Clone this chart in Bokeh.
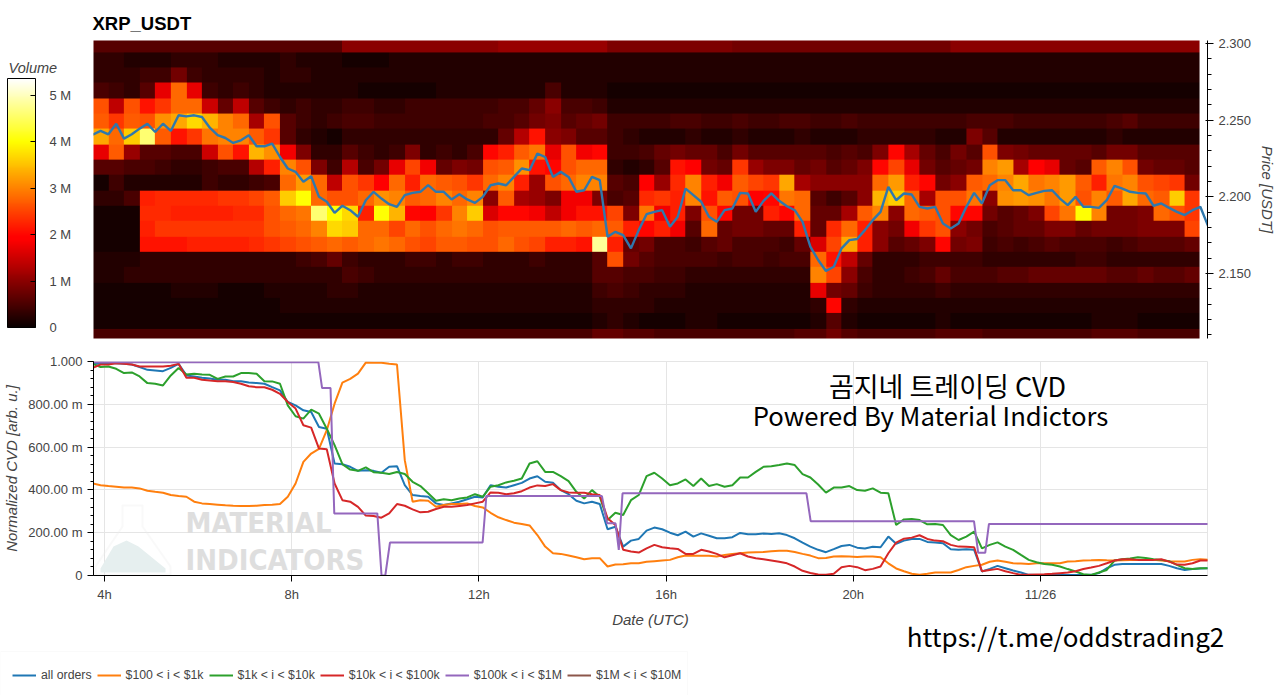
import numpy as np
from bokeh.embed import file_html
from bokeh.resources import INLINE
from bokeh.layouts import column
from bokeh.plotting import figure
from bokeh.models import (ColorBar, LinearColorMapper, FixedTicker, SingleIntervalTicker, Range1d,
                          CustomJSTickFormatter, Label, Legend, LegendItem,
                          BoxAnnotation, PolyAnnotation)

# ---------- data ----------
tick_hours = [4, 8, 12, 16, 20, 24]
tick_labels = ["4h", "8h", "12h", "16h", "20h", "11/26"]
volume_ticks = [0, 1e6, 2e6, 3e6, 4e6, 5e6]

# heatmap rows, top to bottom, volume in units of 0.1 M, one value per 20 min
row_2299 = [6]*16+[10]*10+[11]*7+[9]*8+[8]*10+[8]*4+[10]*16
row_2289 = [3,3,2,2,2,3,3,3,2,2,2,2,3,2,2,2,1,1,1,2,2,2,2,2,2,2]+[2]*25+[2]*20
row_2279 = [3,3,3,4,4,8,4,3,3,3,3,2,3,3,2,2,2,2,2,2,2,2,2,2,2,2]+[2]*25+[2]*20
row_2269 = [5,4,3,6,17,28,17,4,3,4,3,2,2,2,2,2,2,1,1,1,1,1,2,2,2,2]+[2,2,2,5,2,2,2]+[1]*18+[1]*20
row_2259 = [26,14,26,21,24,28,28,15,7,14,6,4,3,4,3,3,4,4,3,3,4,4,4,4,4,4]+[5,5,7,10,5,5,4]+[2]*18+[2]*20
row_2249 = [27,24,27,26,31,33,37,34,30,28,12,26,6,4,3,4,5,5,4,4,4,4,4,4,4,5]+[5,6,8,9,6,7,8,4,4,4,4,5,5,4,4,5,4,4,5,5,4,4,5,4,4]+[4,4,4,4,4,5,5,5,4,4,4,4,4,4,5,6,4,4,4,4]
row_2239 = [33,28,36,46,27,21,24,29,30,30,27,24,6,3,2,1,3,3,3,3,3,3,3,3,3,3]+[7,13,21,10,9,6,6,4,3,2,2,2,3,2,2,3,2,2,2,3,2,2,2,3,3]+[3,3,3,2,2,9,6,2,2,2,2,2,2,2,3,2,2,2,2,2]
row_2229 = [17,27,11,6,6,5,5,15,26,21,34,31,18,9,3,3,6,4,3,4,9,3,4,3,5,20]+[22,27,29,17,26,18,20,4,4,5,7,8,7,7,5,8,6,6,6,6,6,5,6,5,9]+[20,12,7,5,8,6,26,9,8,7,7,7,7,6,8,8,6,6,6,6]
row_2219 = [6,6,5,5,4,3,3,4,5,5,13,22,30,26,9,4,13,5,8,17,25,18,7,9,8,26]+[27,31,21,20,26,28,28,3,2,3,6,21,19,8,7,24,11,9,9,7,8,6,7,9,20]+[25,17,8,6,7,8,30,32,12,19,17,7,6,27,30,26,8,7,7,6]
row_2209 = [1,4,2,2,2,2,2,4,3,3,4,5,28,32,28,14,26,24,19,28,22,28,27,26,24,28]+[30,22,11,26,28,30,30,6,5,19,11,23,30,22,18,27,25,24,33,12,10,10,10,10,28]+[32,22,20,8,10,27,28,30,33,29,30,32,27,22,29,30,26,25,24,8]
row_2199 = [3,3,5,22,23,23,23,23,24,24,25,27,36,40,28,26,26,28,31,30,27,28,30,28,30,10]+[27,12,11,9,18,18,9,5,6,23,24,22,30,21,27,26,19,20,29,28,6,4,6,10,34]+[36,28,12,26,26,29,10,31,32,31,29,32,26,30,27,33,28,27,36,24]
row_2189 = [1,1,1,23,23,22,22,22,22,23,23,26,28,29,46,40,37,22,40,34,20,19,24,30,36,16]+[20,20,18,14,18,21,21,25,9,29,18,22,9,26,20,8,8,22,20,28,7,7,12,27,30]+[10,28,27,26,20,20,8,6,7,9,25,29,40,30,8,8,9,28,26,24]
row_2179 = [1,1,1,22,24,24,24,24,24,24,24,26,27,28,30,37,36,28,28,25,28,26,28,29,28,26]+[27,27,27,27,28,27,28,27,22,20,22,18,6,28,7,8,8,7,7,22,7,23,28,22,10]+[8,18,24,26,10,8,5,6,7,7,9,9,7,8,8,8,9,9,9,25]
row_2169 = [1,1,1,21,21,21,22,22,22,22,23,24,25,26,27,28,27,28,29,28,26,25,27,27,26,26]+[28,26,25,22,22,21,48,22,7,8,5,5,4,6,7,5,5,5,4,7,16,25,33,22,10]+[6,7,9,20,8,9,4,5,4,5,6,5,5,5,4,5,6,6,6,7]
row_2159 = [2,2,2,3,3,3,3,3,3,3,3,3,3,4,5,7,4,3,3,3,4,4,3,4,4,3]+[3,3,4,3,3,3,6,26,8,6,5,5,5,5,4,5,5,4,5,5,28,21,14,7,3]+[3,3,4,4,4,4,3,3,3,3,3,3,4,4,3,3,3,3,3,3]
row_2149 = [2,2,3,3,3,3,3,3,3,3,3,3,3,3,3,3,5,4,3,3,3,3,3,3,3,3]+[3,3,3,3,3,3,6,6,5,5,4,4,3,3,3,3,3,3,3,3,30,25,10,5,3]+[3,4,5,7,5,5,5,6,6,7,7,7,7,7,6,6,7,6,6,7]
row_2139 = [1,1,1,1,1,2,2,2,1,1,1,2,2,2,2,3,3,2,2,2,2,2,2,2,2,2]+[2,2,2,2,2,2,4,5,4,3,3,3,2,2,2,2,2,2,2,2,17,8,7,4,3]+[3,3,3,4]+[3]*16
row_2129 = [1]*12+[2]*14+[2,2,2,2,2,2,3,3,3,3,2,2,2,2,2,2,2,2,2,2,3,20,3,2,2]+[2]*20
row_2119 = [1]*26+[1,1,1,1,1,1,2,3,2,1,1,1,2,2,1,1,1,1,1,1,2,6,2,1,1]+[1,1,1,2,1,1,1,1,1,1,1,1,1,2,2,2,1,1,1,1]
row_2109 = [5]*26+[5,5,5,5,5,5,7,7,6,6,5,5,5,5,5,5,5,5,5,6,6,8,6,5,5]+[5,5,5,6,6,6,5,5,5,5,5,5,5,6,6,6,5,5,5,5]

# price and CVD, one value per 10 min starting at 03:45
price = [2.2406,2.2430,2.2408,2.2477,2.2380,2.2408,2.2445,2.2477,2.2423,2.2477,2.2430,2.2532,2.2525,2.2532,2.2521,2.2451,2.2402,2.2384,2.2352,2.2369,
         2.2402,2.2330,2.2330,2.2347,2.2260,2.2185,2.2163,2.2098,2.2135,2.2000,2.1968,2.1896,2.1942,2.1913,2.1870,2.1978,2.2033,2.1989,2.1952,2.1935,
         2.2011,2.2026,2.2033,2.2076,2.2033,2.2033,2.1983,2.2017,2.1983,2.1961,2.2000,
         2.2076,2.2087,2.2076,2.2130,2.2185,2.2174,2.2282,2.2260,2.2130,2.2163,2.2130,2.2033,2.2043,2.2130,2.2109,2.1740,2.1772,2.1751,2.1664,2.1783,
         2.1887,2.1902,2.1913,2.1805,2.1870,2.2054,2.2011,2.1968,2.1870,2.1837,2.1913,2.1924,2.2026,2.2022,2.1902,2.1974,2.2022,2.1974,2.1939,2.1913,
         2.1837,2.1675,2.1588,2.1516,2.1544,2.1664,2.1718,2.1725,2.1783,2.1848,2.1902,2.2065,
         2.1978,2.2022,2.2015,2.1935,2.1924,2.1935,2.1826,2.1794,2.1826,2.1935,2.2026,2.1957,2.2076,2.2109,2.2109,2.2043,2.2043,2.2011,2.2026,2.2039,
         2.2043,2.1989,2.1946,2.2000,2.1935,2.1935,2.1928,2.1978,2.2072,2.2054,2.2033,2.2026,2.2022,2.1942,2.1957,2.1928,2.1902,2.1881,2.1913,2.1935,2.1809]

cvd_all = [.989,.989,.992,.992,.989,.986,.974,.961,.958,.955,.970,.989,.935,.930,.924,.921,.915,.915,.908,.908,.902,.899,.896,.880,.865,.811,.795,.772,.764,.694,.686,.523,.520,.508,.489,.492,.489,.480,.508,.511,.422,.376,.371,.368,.337,.329,
           .337,.345,.356,.368,.365,.422,.415,.411,.422,.433,.453,.464,.438,.433,.399,.380,.349,.337,.345,.334,.216,.228,.135,.163,.171,.210,.224,.216,.200,.188,.205,.182,.197,.186,.174,.174,.179,.199,.193,.193,.196,.194,.197,.189,.174,.154,.135,.120,.109,.123,.138,.143,
           .130,.126,.134,.132,.182,.148,.163,.171,.171,.157,.154,.151,.123,.120,.123,.120,.019,.031,.045,.034,.023,.014,.003,.002,.002,.002,.002,.002,.002,.002,.003,.011,.034,.050,.054,.054,.054,.054,.054,.054,.045,.034,.026,.030,.033,.034]
cvd_100_1k = [.430,.422,.418,.415,.411,.411,.407,.396,.391,.387,.376,.371,.368,.345,.337,.334,.331,.328,.326,.325,.325,.326,.329,.331,.334,.368,.430,.531,.570,.592,.679,.803,.901,.919,.943,.995,.994,.994,.989,.986,.539,.345,.352,.349,.321,.329,
              .334,.334,.337,.325,.318,.293,.272,.259,.247,.241,.234,.189,.135,.104,.101,.093,.085,.076,.081,.081,.042,.051,.053,.057,.057,.064,.067,.070,.073,.085,.093,.092,.092,.092,.089,.096,.101,.104,.107,.109,.110,.113,.116,.116,.110,.101,.093,.081,.082,.089,.090,.089,
              .087,.089,.089,.085,.057,.033,.020,.008,.003,.008,.014,.014,.014,.026,.039,.045,.050,.064,.070,.064,.057,.056,.054,.057,.057,.057,.057,.065,.067,.070,.071,.073,.071,.070,.071,.073,.073,.073,.073,.070,.067,.065,.065,.073,.076,.073]
cvd_1k_10k = [.989,.974,.977,.966,.946,.949,.930,.899,.896,.888,.935,.970,.939,.943,.939,.938,.919,.930,.930,.946,.946,.943,.908,.907,.896,.795,.744,.733,.775,.756,.686,.609,.520,.495,.489,.505,.483,.480,.474,.484,.474,.438,.418,.384,.349,.356,
              .352,.360,.365,.380,.368,.415,.422,.435,.443,.453,.523,.534,.484,.484,.464,.441,.391,.360,.399,.368,.259,.293,.283,.352,.376,.464,.480,.453,.422,.430,.449,.418,.453,.418,.427,.415,.422,.458,.458,.484,.508,.511,.516,.523,.516,.474,.458,.425,.387,.411,.411,.418,
              .399,.396,.407,.387,.384,.236,.262,.264,.259,.239,.241,.236,.189,.166,.182,.205,.127,.143,.155,.135,.120,.096,.073,.062,.054,.050,.042,.030,.019,.006,.002,.014,.026,.070,.076,.079,.085,.082,.076,.073,.067,.050,.034,.030,.034,.034]
cvd_10k_100k = [.970,.986,.986,.992,.989,.986,.977,.977,.977,.977,.980,.989,.924,.924,.915,.911,.908,.908,.904,.896,.884,.880,.880,.868,.849,.811,.780,.702,.691,.593,.590,.430,.352,.345,.321,.280,.278,.270,.290,.334,.326,.309,.295,.298,.311,.321,
                .321,.325,.329,.337,.345,.388,.387,.380,.384,.394,.411,.421,.418,.427,.399,.388,.387,.387,.380,.376,.267,.236,.120,.112,.107,.127,.143,.132,.127,.124,.101,.101,.120,.112,.101,.085,.095,.104,.089,.081,.076,.070,.064,.057,.042,.022,.012,.005,.003,.008,.039,.045,
                .039,.025,.031,.042,.104,.154,.172,.177,.188,.171,.163,.160,.143,.135,.134,.132,.020,.026,.031,.020,.011,.003,.003,.005,.006,.008,.011,.014,.020,.030,.037,.045,.057,.070,.076,.076,.073,.073,.073,.076,.065,.051,.050,.057,.070,.070]
# the $100k-$1M series moves in steps, so it is listed by its break times
steps_hours = [3.75,8.57,8.65,8.83,8.91,9.83,9.92,10.0,10.10,12.08,12.16,14.63,14.74,14.92,14.99,15.07,19.0,19.09,22.58,22.67,22.82,22.90,27.6]
cvd_100k_1m = [.997,.997,.876,.876,.290,.290,0,0,.154,.154,.371,.371,.244,.244,.120,.384,.384,.254,.254,.106,.106,.241,.241]
no_value = [float("nan")]   # the $1M-$10M series is listed in the legend, nothing is drawn

legend_labels = ["all orders", "$100 < i < $1k", "$1k < i < $10k", "$10k < i < $100k", "$100k < i < $1M", "$1M < i < $10M"]
line_colors = ["#1f77b4", "#ff7f0e", "#2ca02c", "#d62728", "#9467bd", "#8c564b"]

# ---------- helpers ----------
rows_top_down = [row_2299,row_2289,row_2279,row_2269,row_2259,row_2249,row_2239,row_2229,row_2219,row_2209,
                 row_2199,row_2189,row_2179,row_2169,row_2159,row_2149,row_2139,row_2129,row_2119,row_2109]
volume = np.array(rows_top_down[::-1], dtype=float) * 1e5
hours = 3.75 + np.arange(144) / 6

def hot(n=256):
    out = []
    for k in range(n):
        f = k / (n - 1)
        r = min(1, 0.04 + f / 0.365)
        g = min(1, max(0, (f - 0.365) / 0.381))
        b = min(1, max(0, (f - 0.746) / 0.254))
        out.append("#%02x%02x%02x" % (int(r*255), int(g*255), int(b*255)))
    return out

FONT = "Liberation Sans"
GREY = "#444444"
mapper = LinearColorMapper(palette=hot(), low=0, high=5.36e6)
x_range = Range1d(3.765, 27.57)

# ---------- top panel ----------
top = figure(width=1280, height=350, output_backend="svg", toolbar_location=None, x_range=x_range,
             y_range=Range1d(2.1076, 2.302), x_axis_location=None, y_axis_location="right",
             min_border_left=93, min_border_right=73,
             min_border_top=40, min_border_bottom=12, title="XRP_USDT", outline_line_color=None)
top.title.text_font = FONT
top.title.text_font_size = "18.5px"
top.title.text_font_style = "bold"
top.title.text_color = "black"
top.title.offset = -1
top.title.standoff = 13
top.grid.visible = False
top.image(image=[volume], x=3.75, y=2.104, dw=23.65, dh=0.20, color_mapper=mapper)
top.line(hours, price, line_color="#2f78ad", line_width=2.4)

ya = top.yaxis[0]
ya.ticker = SingleIntervalTicker(interval=0.05, num_minor_ticks=5)
ya.formatter = CustomJSTickFormatter(code="return tick.toFixed(3)")
ya.axis_label = "Price [USDT]"
ya.axis_label_text_font = FONT
ya.axis_label_text_font_style = "italic"
ya.axis_label_text_font_size = "15px"
ya.axis_label_text_color = GREY
ya.major_label_text_font = FONT
ya.major_label_text_font_size = "13px"
ya.major_label_text_color = GREY
ya.axis_line_color = "black"
ya.major_tick_line_color = "black"
ya.minor_tick_line_color = "black"
ya.major_tick_out = 6
ya.minor_tick_out = 4

cb = ColorBar(color_mapper=mapper, ticker=FixedTicker(ticks=volume_ticks),
              formatter=CustomJSTickFormatter(code="return tick==0 ? '0' : (tick/1e6)+' M'"),
              orientation="vertical", width=28, height=249, location=(-86, 11), padding=0, margin=0,
              major_label_text_font=FONT, major_label_text_font_size="13px",
              major_label_text_color=GREY, label_standoff=14, bar_line_color="black",
              major_tick_line_color="black", major_tick_in=5, minor_tick_line_color=None,
              background_fill_alpha=0)
top.add_layout(cb, "center")
top.add_layout(Label(x=8, y=67, x_units="canvas", y_units="canvas", text="Volume", text_font=FONT,
                     text_font_style="italic", text_font_size="14.5px", text_color=GREY,
                     text_baseline="middle"), "left")

# ---------- bottom panel ----------
bot = figure(width=1280, height=280, output_backend="svg", toolbar_location=None, x_range=x_range,
             y_range=Range1d(0, 1.0), min_border_left=93,
             min_border_right=73, min_border_top=11, min_border_bottom=55,
             outline_line_color="#e5e5e5")
bot.xgrid.grid_line_color = "#e5e5e5"
bot.ygrid.grid_line_color = "#e5e5e5"

xa = bot.xaxis[0]
xa.ticker = FixedTicker(ticks=tick_hours)
xa.major_label_overrides = dict(zip(tick_hours, tick_labels))
xa.axis_label = "Date (UTC)"
yb = bot.yaxis[0]
yb.ticker = SingleIntervalTicker(interval=0.2, num_minor_ticks=5)
yb.formatter = CustomJSTickFormatter(code="return tick<1e-6 ? '0' : (tick>0.999 ? '1.000' : (tick*1000).toFixed(2)+' m')")
yb.axis_label = "Normalized CVD [arb. u.]"
for ax in (xa, yb):
    ax.axis_label_text_font = FONT
    ax.axis_label_text_font_style = "italic"
    ax.axis_label_text_font_size = "15px"
    ax.axis_label_text_color = GREY
    ax.major_label_text_font = FONT
    ax.major_label_text_font_size = "13px"
    ax.major_label_text_color = GREY
    ax.axis_line_color = "black"
    ax.major_tick_line_color = "black"
    ax.minor_tick_line_color = "black"
    ax.major_tick_out = 6
    ax.major_tick_in = 0
    ax.minor_tick_out = 3
    ax.minor_tick_in = 0
xa.minor_tick_line_color = None
xa.axis_label_standoff = 6

# watermark (canvas coordinates of the bottom panel)
bot.add_layout(PolyAnnotation(xs=[122, 142, 142, 170, 170, 95, 95, 122], ys=[155, 155, 176, 216, 224, 224, 216, 176],
                              xs_units="canvas", ys_units="canvas", fill_color="#ffffff", fill_alpha=0,
                              line_color="#ececec", line_width=2, level="underlay"))
bot.add_layout(PolyAnnotation(xs=[113, 126, 138, 165, 165, 100, 100], ys=[196, 190, 196, 218, 222, 222, 218],
                              xs_units="canvas", ys_units="canvas", fill_color="#e6efef", fill_alpha=1,
                              line_color=None, level="underlay"))
for txt, yy in (("MATERIAL", 172), ("INDICATORS", 209)):
    bot.add_layout(Label(x=185, y=yy, x_units="canvas", y_units="canvas", text=txt, text_font="DejaVu Sans Condensed",
                         text_font_style="bold", text_font_size="29px", text_color="#dedede",
                         text_baseline="middle", level="underlay"))

for vals, col in zip([cvd_all, cvd_100_1k, cvd_1k_10k, cvd_10k_100k], line_colors):
    bot.line(hours, vals, line_color=col, line_width=2)
bot.line(steps_hours, cvd_100k_1m, line_color=line_colors[4], line_width=2)

cjk = "Noto Sans CJK KR"
bot.add_layout(Label(x=947, y=35, x_units="canvas", y_units="canvas", text="곰지네 트레이딩 CVD", text_font=cjk,
                     text_font_size="27px", text_color="black", text_align="center", text_baseline="middle"))
bot.add_layout(Label(x=930, y=64, x_units="canvas", y_units="canvas", text="Powered By Material Indictors", text_font=cjk,
                     text_font_size="25.7px", text_color="black", text_align="center", text_baseline="middle"))

# ---------- legend strip, pulled up over the empty end of the panel above ----------
strip = figure(width=1280, height=80, output_backend="svg", toolbar_location=None, x_range=Range1d(0, 1),
               y_range=Range1d(0, 1), x_axis_location=None, y_axis_location=None, min_border=0,
               outline_line_color=None, background_fill_color=None, border_fill_color=None,
               margin=(-15, 0, 0, 0))
strip.grid.visible = False
keys = [strip.line(no_value, no_value, line_color=col, line_width=2) for col in line_colors]
strip.add_layout(BoxAnnotation(left=0, right=687, top=36, bottom=80, left_units="canvas", right_units="canvas",
                               top_units="canvas", bottom_units="canvas", fill_color="white", fill_alpha=0,
                               line_color="#eeeeee", line_width=1))
strip.add_layout(Legend(items=[LegendItem(label=l, renderers=[r]) for l, r in zip(legend_labels, keys)],
                        orientation="horizontal", location=(12, 13), padding=0, margin=0, spacing=5,
                        glyph_width=24, glyph_height=14, label_standoff=5, label_height=14,
                        label_text_font=FONT, label_text_font_size="12.3px", label_text_color=GREY,
                        border_line_color=None, background_fill_alpha=0), "center")
strip.add_layout(Label(x=1065, y=20, x_units="canvas", y_units="canvas", text="https://t.me/oddstrading2", text_font=cjk,
                       text_font_size="26px", text_color="black", text_align="center", text_baseline="middle"))

open("out.html", "w").write(file_html([column(top, bot, spacing=0), strip], INLINE))
